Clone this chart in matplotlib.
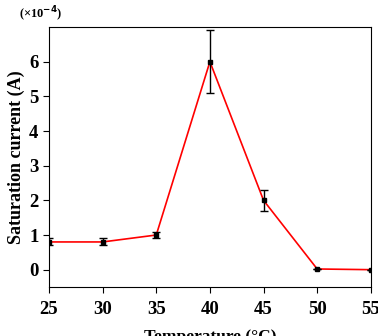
import matplotlib.pyplot as plt
import numpy as np

temperature = [25, 30, 35, 40, 45, 50, 55]
current = [0.8, 0.8, 1.0, 6.0, 2.0, 0.02, 0.0]
current_err = [0.1, 0.1, 0.1, 0.9, 0.3, 0.0, 0.0]

plt.rcParams['font.family'] = ['Liberation Serif', 'DejaVu Serif']
plt.rcParams['font.weight'] = 'bold'

fig = plt.figure(figsize=(3.78, 3.36), dpi=100)
ax = fig.add_axes([0.1296, 0.1458, 0.8514, 0.7738])

ax.plot(temperature, current, color='red', lw=1.2, zorder=2)
ax.errorbar(temperature, current, yerr=current_err, fmt='s', color='black',
            ms=3.5, capsize=3, elinewidth=1, capthick=1, zorder=3)

ax.set_xlim(25, 55)
ax.set_ylim(-0.5, 7.0)
ax.set_xticks([25, 30, 35, 40, 45, 50, 55])
ax.set_yticks([0, 1, 2, 3, 4, 5, 6])
ax.tick_params(direction='out', length=4, labelsize=13.5, top=False, right=False)
ax.tick_params(axis='x', pad=6)
for lab in ax.get_xticklabels() + ax.get_yticklabels():
    lab.set_fontweight('bold')

ax.set_xlabel('Temperature (°C)', fontsize=12.5, fontweight='bold', labelpad=8)
ax.set_ylabel('Saturation current (A)', fontsize=13, fontweight='bold', labelpad=3)
fig.text(0.05, 0.958, r'(×10$^{\mathbf{-4}}$)', fontsize=9, fontweight='bold', va='center')

fig.savefig('out.png', dpi=100)
